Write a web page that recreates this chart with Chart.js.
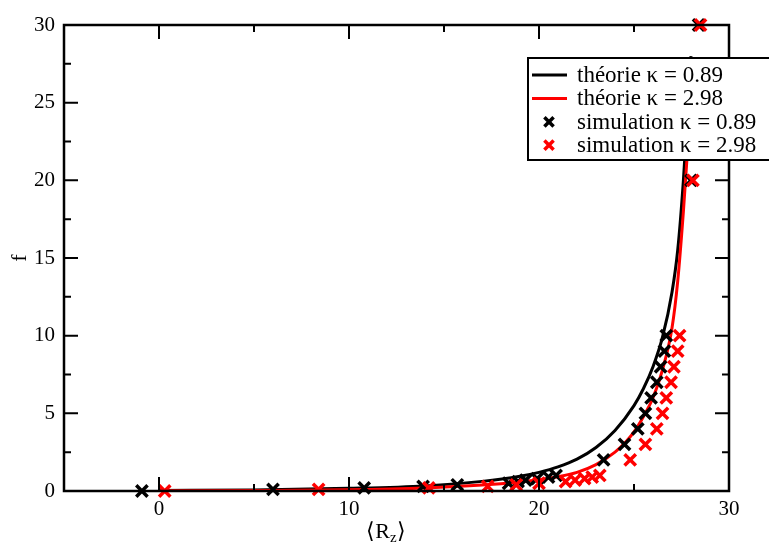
<!DOCTYPE html>
<html>
<head>
<meta charset="utf-8">
<script src="https://cdn.jsdelivr.net/npm/chart.js@4"></script>
<style>
  body { margin: 0; background: #fff; }
  #wrap { width: 769px; height: 548px; }
</style>
</head>
<body>
<div id="wrap"><canvas id="myChart"></canvas></div>
<script>
// theory curves
const theoryRz089 = [0, 5, 10, 14, 17, 19, 20, 21, 22, 23, 24, 25, 25.5, 26, 26.5, 27, 27.3, 27.6, 27.85, 28.0];
const theoryF089  = [0.03, 0.07, 0.17, 0.33, 0.62, 0.95, 1.2, 1.55, 2.05, 2.8, 3.9, 5.5, 6.6, 8.0, 9.9, 12.8, 15.5, 20, 25, 28];
const theoryRz298 = [0, 5, 10, 14, 17, 19, 20, 21, 22, 23, 24, 24.6, 25, 25.5, 26, 26.5, 27, 27.3, 27.6, 27.85, 28.05];
const theoryF298  = [0.01, 0.03, 0.08, 0.2, 0.38, 0.58, 0.72, 0.92, 1.2, 1.7, 2.5, 3.2, 3.8, 4.8, 6.0, 7.8, 10.5, 13.5, 18, 22.5, 27];

// simulation points
const simF     = [0, 0.1, 0.2, 0.3, 0.4, 0.5, 0.6, 0.7, 0.8, 0.9, 1, 2, 3, 4, 5, 6, 7, 8, 9, 10, 20, 30];
const simRz089 = [-0.9, 6.0, 10.8, 13.9, 15.7, 18.4, 18.9, 19.3, 19.9, 20.5, 20.9, 23.4, 24.5, 25.2, 25.6, 25.9, 26.2, 26.4, 26.6, 26.7, 28.0, 28.4];
const simRz298 = [0.3, 8.4, 14.2, 17.3, 18.8, 20.0, 21.4, 21.9, 22.4, 22.8, 23.2, 24.8, 25.6, 26.2, 26.5, 26.7, 26.95, 27.1, 27.3, 27.4, 28.1, 28.5];

const xTickValues = [0, 10, 20, 30];
const xMinorTicks = [-5, 5, 15, 25];
const yTickValues = [0, 5, 10, 15, 20, 25, 30];
const yMinorTicks = [2.5, 7.5, 12.5, 17.5, 22.5, 27.5];

const FONT = '"Liberation Serif", "Times New Roman", serif';

const toPoints = (xs, ys) => xs.map((x, i) => ({ x: x, y: ys[i] }));

// frame + inward ticks on all four sides
const frameTicks = {
  id: 'frameTicks',
  afterDatasetsDraw(chart) {
    const { ctx, chartArea: a, scales } = chart;
    ctx.save();
    ctx.strokeStyle = '#000';
    ctx.lineWidth = 2;
    const tick = (len, vals, axis) => {
      vals.forEach(v => {
        ctx.beginPath();
        if (axis === 'x') {
          const p = scales.x.getPixelForValue(v);
          ctx.moveTo(p, a.bottom); ctx.lineTo(p, a.bottom - len);
          ctx.moveTo(p, a.top); ctx.lineTo(p, a.top + len);
        } else {
          const p = scales.y.getPixelForValue(v);
          ctx.moveTo(a.left, p); ctx.lineTo(a.left + len, p);
          ctx.moveTo(a.right, p); ctx.lineTo(a.right - len, p);
        }
        ctx.stroke();
      });
    };
    tick(14, xTickValues, 'x');
    tick(7, xMinorTicks, 'x');
    tick(14, yTickValues, 'y');
    tick(7, yMinorTicks, 'y');
    ctx.lineWidth = 2.5;
    ctx.strokeRect(a.left, a.top, a.right - a.left, a.bottom - a.top);
    ctx.restore();
  }
};

// legend box drawn inside the plot, and the x title with subscript
const insideLegend = {
  id: 'insideLegend',
  afterDraw(chart) {
    const ctx = chart.ctx;
    ctx.save();
    ctx.fillStyle = '#fff';
    ctx.fillRect(528, 58, 250, 102);
    ctx.strokeStyle = '#000';
    ctx.lineWidth = 2;
    ctx.strokeRect(528, 58, 250, 102);
    ctx.font = '23px ' + FONT;
    ctx.textBaseline = 'middle';
    chart.data.datasets.forEach((ds, i) => {
      const y = 75 + i * 23.4;
      if (ds.showLine) {
        ctx.strokeStyle = ds.borderColor;
        ctx.lineWidth = 3;
        ctx.beginPath();
        ctx.moveTo(532, y); ctx.lineTo(567, y);
        ctx.stroke();
      } else {
        ctx.strokeStyle = ds.borderColor;
        ctx.fillStyle = ds.borderColor;
        ctx.lineWidth = 3.5;
        Chart.helpers.drawPoint(ctx, { pointStyle: 'crossRot', radius: 6.5, borderWidth: 3.5, rotation: 0 }, 549, y);
      }
      ctx.fillStyle = '#000';
      ctx.fillText(ds.label, 577, y + 1);
    });

    // x axis title: <R_z>
    const base = 538;
    ctx.fillStyle = '#000';
    ctx.textBaseline = 'alphabetic';
    ctx.font = '22px ' + FONT;
    const w1 = ctx.measureText('\u27E8R').width;
    ctx.font = '15px ' + FONT;
    const w2 = ctx.measureText('z').width;
    ctx.font = '22px ' + FONT;
    const w3 = ctx.measureText('\u27E9').width;
    let x = 386 - (w1 + w2 + w3) / 2;
    ctx.fillText('\u27E8R', x, base); x += w1;
    ctx.font = '15px ' + FONT;
    ctx.fillText('z', x, base + 4); x += w2;
    ctx.font = '22px ' + FONT;
    ctx.fillText('\u27E9', x, base);
    ctx.restore();
  }
};

const ctx = document.getElementById('myChart');
const myChart = new Chart(ctx, {
  type: 'scatter',
  data: {
    datasets: [
      {
        label: 'théorie κ = 0.89',
        data: toPoints(theoryRz089, theoryF089),
        showLine: true,
        borderColor: '#000',
        borderWidth: 3,
        pointRadius: 0,
        cubicInterpolationMode: 'monotone',
        order: 3
      },
      {
        label: 'théorie κ = 2.98',
        data: toPoints(theoryRz298, theoryF298),
        showLine: true,
        borderColor: '#ff0000',
        borderWidth: 3,
        pointRadius: 0,
        cubicInterpolationMode: 'monotone',
        order: 2
      },
      {
        label: 'simulation κ = 0.89',
        data: toPoints(simRz089, simF),
        showLine: false,
        borderColor: '#000',
        backgroundColor: '#000',
        pointStyle: 'crossRot',
        pointRadius: 8,
        pointBorderWidth: 3.5,
        clip: false,
        order: 1
      },
      {
        label: 'simulation κ = 2.98',
        data: toPoints(simRz298, simF),
        showLine: false,
        borderColor: '#ff0000',
        backgroundColor: '#ff0000',
        pointStyle: 'crossRot',
        pointRadius: 8,
        pointBorderWidth: 3.5,
        clip: false,
        order: 0
      }
    ]
  },
  options: {
    responsive: true,
    maintainAspectRatio: false,
    animation: false,
    events: [],
    layout: { padding: { top: 25, right: 40, left: 0, bottom: 0 } },
    plugins: {
      legend: { display: false },
      tooltip: { enabled: false }
    },
    scales: {
      x: {
        type: 'linear',
        min: -5,
        max: 30,
        afterBuildTicks: (scale) => { scale.ticks = xTickValues.map(v => ({ value: v })); },
        afterFit: (scale) => { scale.height = 57; },
        grid: { display: false, drawTicks: false },
        border: { display: false },
        ticks: { color: '#000', padding: 6, maxRotation: 0, font: { family: FONT, size: 21 } }
      },
      y: {
        type: 'linear',
        min: 0,
        max: 30,
        afterBuildTicks: (scale) => { scale.ticks = yTickValues.map(v => ({ value: v })); },
        afterFit: (scale) => { scale.width = 64; },
        grid: { display: false, drawTicks: false },
        border: { display: false },
        ticks: { color: '#000', padding: 9, font: { family: FONT, size: 21 } },
        title: { display: true, text: 'f', color: '#000', padding: { top: 7, bottom: 0 }, font: { family: FONT, size: 22 } }
      }
    }
  },
  plugins: [frameTicks, insideLegend]
});
</script>
</body>
</html>
